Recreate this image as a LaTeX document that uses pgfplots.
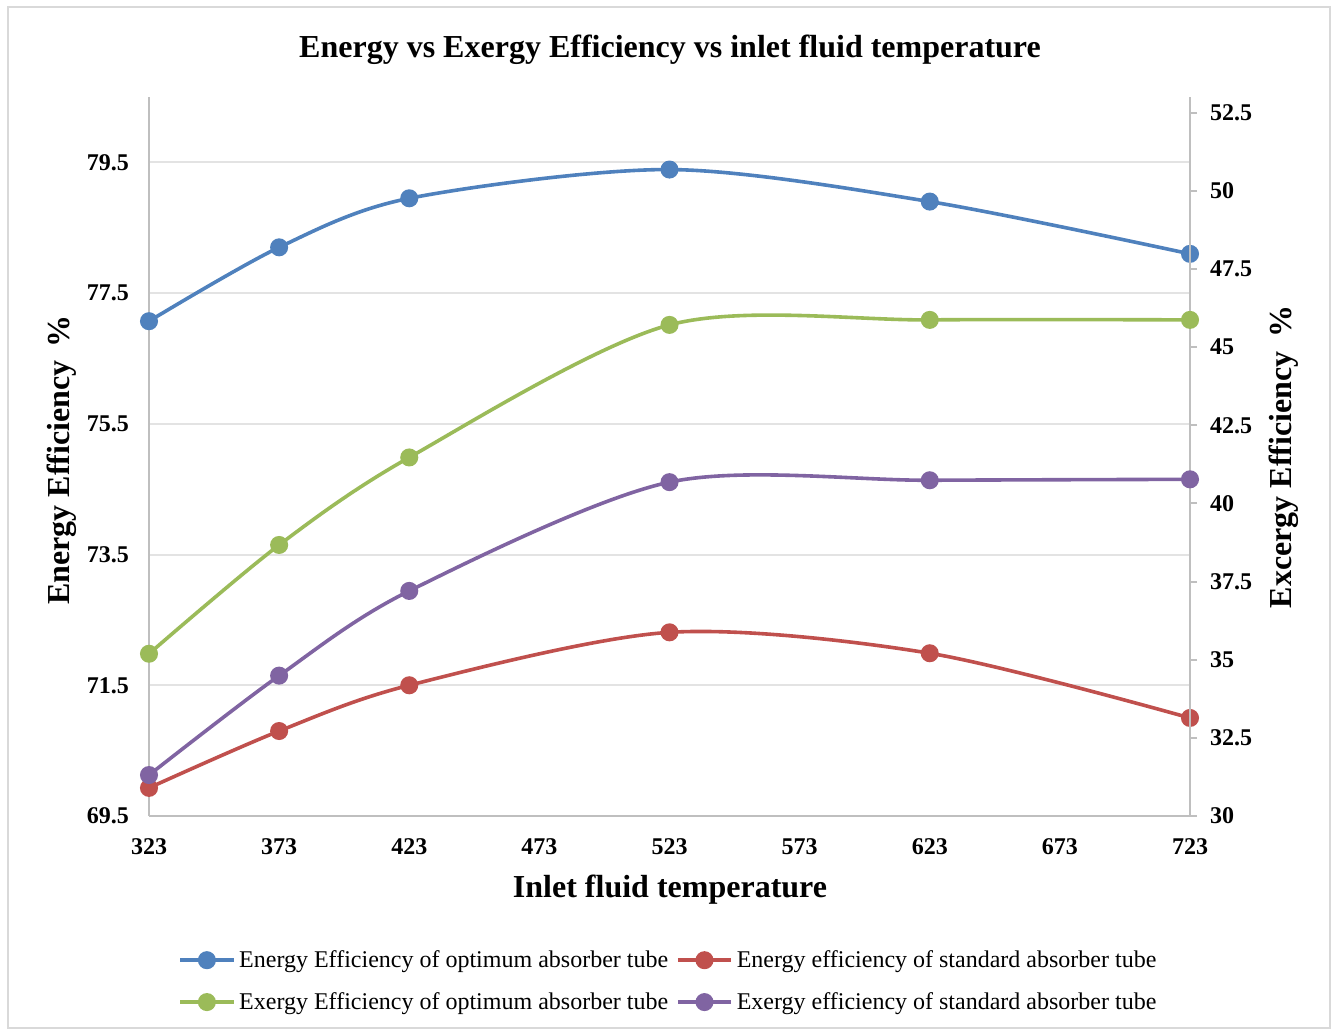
\documentclass[border=0pt]{standalone}
\usepackage{fontspec}
\setmainfont{Liberation Serif}
\usepackage{pgfplots}
\pgfplotsset{compat=1.18}
\definecolor{cblue}{HTML}{4F81BD}
\definecolor{cred}{HTML}{C0504D}
\definecolor{cgreen}{HTML}{9BBB59}
\definecolor{cpurple}{HTML}{8064A2}
\definecolor{axgray}{HTML}{BFBFBF}
\definecolor{grgray}{HTML}{E3E3E3}
\definecolor{frgray}{HTML}{D9D9D9}
\pgfplotsset{
  common/.style={
    at={(74.5pt,106.5pt)}, anchor=south west, scale only axis,
    width=520.5pt, height=359.5pt,
    xmin=323, xmax=723, clip=false,
    /pgf/number format/assume math mode=true,
    ticklabel style={font=\fontsize{12}{14}\selectfont\bfseries},
    axis line style={axgray, line width=1pt},
    legend image code/.code={\draw[mark repeat=2,mark phase=2,##1] plot coordinates {(0pt,0pt)(13.25pt,0pt)(26.5pt,0pt)};},
  },
  ser/.style={color=#1, line width=1.8pt, smooth, mark=*, mark size=3.6pt, mark options={fill=#1, draw=#1}},
}
\begin{document}
\begin{tikzpicture}
\useasboundingbox (0,0) rectangle (668pt,514.5pt);
\draw[frgray, line width=0.75pt] (4pt,0.5pt) rectangle (665pt,511pt);
\begin{axis}[common,
  ymin=69.5, ymax=80.5,
  xtick={323,373,...,723}, ytick={69.5,71.5,...,79.5},
  yticklabel style={/pgf/number format/fixed, /pgf/number format/fixed zerofill, /pgf/number format/precision=1},
  axis x line*=bottom, axis y line*=left,
  major tick length=0pt,
  ymajorgrids, grid style={grgray, line width=1pt},
  xticklabel style={yshift=-8pt},
  yticklabel style={xshift=-6.5pt},
]
\addplot[ser=cblue] coordinates {(323,77.07)(373,78.20)(423,78.95)(523,79.39)(623,78.90)(723,78.10)};
\addplot[ser=cred] coordinates {(323,69.93)(373,70.80)(423,71.50)(523,72.31)(623,71.99)(723,71.00)};
\end{axis}
\begin{axis}[common,
  ymin=30, ymax=53,
  ytick={30,32.5,...,52.5},
  axis x line=none, axis y line*=right,
  tick align=outside, major tick length=3.5pt,
  tick style={axgray, line width=1pt},
  yticklabel style={xshift=3pt},
  legend columns=2, legend cell align=left,
  legend style={at={(0.5,-0.175)}, anchor=north, draw=none, fill=none,
    font=\fontsize{12}{14}\selectfont, row sep=7pt,
    /tikz/every even column/.append style={column sep=2pt}},
]
\addlegendimage{ser=cblue}
\addlegendentry{Energy Efficiency of optimum absorber tube}
\addlegendimage{ser=cred}
\addlegendentry{Energy efficiency of standard absorber tube}
\addplot[ser=cgreen] coordinates {(323,35.19)(373,38.67)(423,41.47)(523,45.71)(623,45.87)(723,45.87)};
\addlegendentry{Exergy Efficiency of optimum absorber tube}
\addplot[ser=cpurple] coordinates {(323,31.31)(373,34.49)(423,37.20)(523,40.68)(623,40.74)(723,40.77)};
\addlegendentry{Exergy efficiency of standard absorber tube}
\end{axis}
\node[font=\fontsize{16}{19}\selectfont\bfseries] at (335pt,489.5pt) {Energy vs Exergy Efficiency vs inlet fluid temperature};
\node[font=\fontsize{16}{19}\selectfont\bfseries] at (335pt,69.5pt) {Inlet fluid temperature};
\node[font=\fontsize{16}{19}\selectfont\bfseries, rotate=90] at (31pt,284.5pt) {Energy Efficiency\ \,\%};
\node[font=\fontsize{16}{19}\selectfont\bfseries, rotate=90] at (642pt,286pt) {Excergy Efficiency\ \,\%};
\end{tikzpicture}
\end{document}
